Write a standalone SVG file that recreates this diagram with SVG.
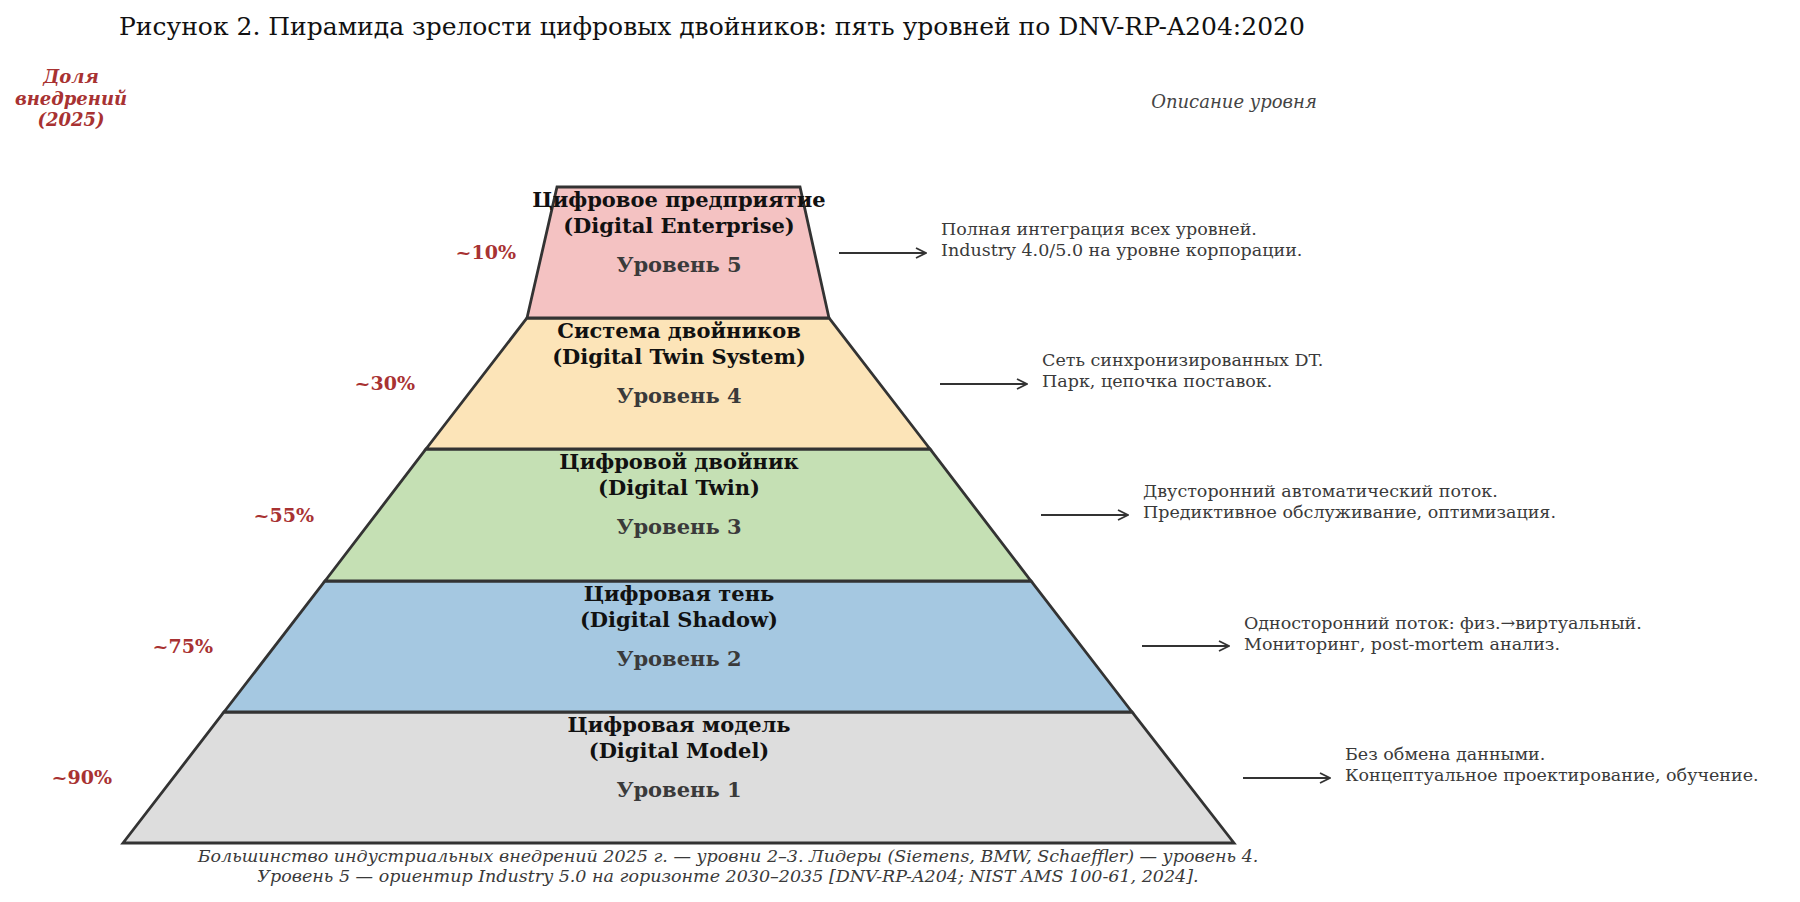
<svg xmlns="http://www.w3.org/2000/svg" width="1800" height="902" viewBox="0 0 1800 902">
<style>
text{font-family:"DejaVu Serif","Liberation Serif",serif}
.t{font-size:25px;fill:#111}
.hd{font-size:18px;font-weight:bold;font-style:italic;fill:#a83232;text-anchor:middle}
.dh{font-size:18px;font-style:italic;fill:#444;text-anchor:middle}
.lt{font-size:21px;font-weight:bold;fill:#111;text-anchor:middle}
.lv{font-size:21px;font-weight:bold;fill:#3a3a3a;text-anchor:middle}
.pc{font-size:19px;font-weight:bold;fill:#a83232;text-anchor:end}
.ds{font-size:17.5px;fill:#3a3a3a}
.ft{font-size:17.5px;font-style:italic;fill:#3a3a3a;text-anchor:middle}
.lay{stroke:#333;stroke-width:2.8;stroke-linejoin:miter}
.ar{stroke:#333;stroke-width:1.8;fill:none}
</style>
<defs><marker id="a" viewBox="0 0 12 12" refX="11" refY="6" markerWidth="12" markerHeight="12" markerUnits="userSpaceOnUse" orient="auto"><path d="M1,1 L11,6 L1,11" fill="none" stroke="#333" stroke-width="1.8"/></marker></defs>
<rect width="1800" height="902" fill="#fff"/>
<text class="t" x="119" y="35">Рисунок 2. Пирамида зрелости цифровых двойников: пять уровней по DNV-RP-A204:2020</text>
<text class="hd" x="71" y="83">Доля</text>
<text class="hd" x="71" y="105">внедрений</text>
<text class="hd" x="71" y="126">(2025)</text>
<text class="dh" x="1234" y="108">Описание уровня</text>
<g id="level1"><polygon class="lay" fill="#dddddd" points="224,712 1132,712 1234,843 123,843"/>
<text class="lt" x="679" y="732">Цифровая модель</text><text class="lt" x="679" y="758">(Digital Model)</text><text class="lv" x="679" y="797">Уровень 1</text>
<text class="pc" x="112" y="784">~90%</text>
<text class="ds" x="1345" y="760">Без обмена данными.</text><text class="ds" x="1345" y="781">Концептуальное проектирование, обучение.</text></g>
<g id="level2"><polygon class="lay" fill="#a5c8e1" points="325,581 1031,581 1132,712 224,712"/>
<text class="lt" x="679" y="601">Цифровая тень</text><text class="lt" x="679" y="627">(Digital Shadow)</text><text class="lv" x="679" y="666">Уровень 2</text>
<text class="pc" x="213" y="653">~75%</text>
<text class="ds" x="1244" y="629">Односторонний поток: физ.→виртуальный.</text><text class="ds" x="1244" y="650">Мониторинг, post-mortem анализ.</text></g>
<g id="level3"><polygon class="lay" fill="#c5e0b4" points="426,449 930,449 1031,581 325,581"/>
<text class="lt" x="679" y="469">Цифровой двойник</text><text class="lt" x="679" y="495">(Digital Twin)</text><text class="lv" x="679" y="534">Уровень 3</text>
<text class="pc" x="314" y="522">~55%</text>
<text class="ds" x="1143" y="497">Двусторонний автоматический поток.</text><text class="ds" x="1143" y="518">Предиктивное обслуживание, оптимизация.</text></g>
<g id="level4"><polygon class="lay" fill="#fce4b8" points="527,318 829,318 930,449 426,449"/>
<text class="lt" x="679" y="338">Система двойников</text><text class="lt" x="679" y="364">(Digital Twin System)</text><text class="lv" x="679" y="403">Уровень 4</text>
<text class="pc" x="415" y="390">~30%</text>
<text class="ds" x="1042" y="366">Сеть синхронизированных DT.</text><text class="ds" x="1042" y="387">Парк, цепочка поставок.</text></g>
<g id="level5"><polygon class="lay" fill="#f4c2c2" points="557,187 800,187 829,318 527,318"/>
<text class="lt" x="679" y="207">Цифровое предприятие</text><text class="lt" x="679" y="233">(Digital Enterprise)</text><text class="lv" x="679" y="272">Уровень 5</text>
<text class="pc" x="516" y="259">~10%</text>
<text class="ds" x="941" y="235">Полная интеграция всех уровней.</text><text class="ds" x="941" y="256">Industry 4.0/5.0 на уровне корпорации.</text></g>
<g id="connectors">
<line class="ar" x1="839" y1="253" x2="926" y2="253" marker-end="url(#a)"/>
<line class="ar" x1="940" y1="384" x2="1027" y2="384" marker-end="url(#a)"/>
<line class="ar" x1="1041" y1="515" x2="1128" y2="515" marker-end="url(#a)"/>
<line class="ar" x1="1142" y1="646" x2="1229" y2="646" marker-end="url(#a)"/>
<line class="ar" x1="1243" y1="778" x2="1330" y2="778" marker-end="url(#a)"/>
</g>
<text class="ft" x="728" y="862">Большинство индустриальных внедрений 2025 г. — уровни 2–3. Лидеры (Siemens, BMW, Schaeffler) — уровень 4.</text>
<text class="ft" x="728" y="882">Уровень 5 — ориентир Industry 5.0 на горизонте 2030–2035 [DNV-RP-A204; NIST AMS 100-61, 2024].</text>
</svg>
